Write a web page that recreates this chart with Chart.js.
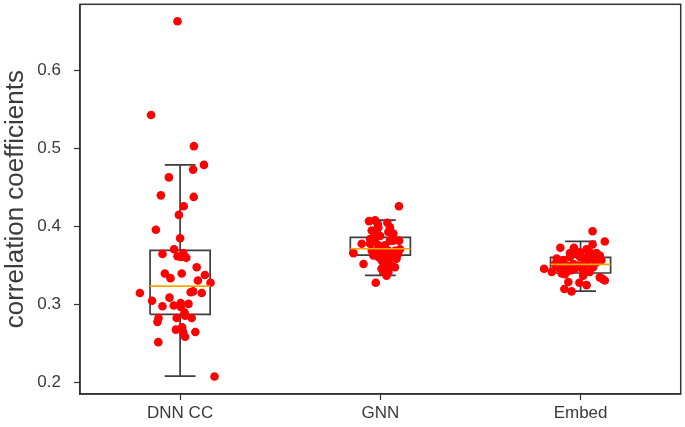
<!DOCTYPE html>
<html><head><meta charset="utf-8">
<script src="https://cdn.jsdelivr.net/npm/chart.js@4"></script>
<style>html,body{margin:0;padding:0;background:#fff}</style>
</head><body>
<canvas id="c" width="685" height="427"></canvas>
<script>
const categories = ["DNN CC", "GNN", "Embed"];
const yTickValues = [0.2, 0.3, 0.4, 0.5, 0.6];

const q1 = [0.2876, 0.3635, 0.3406];
const median = [0.3237, 0.3716, 0.3517];
const q3 = [0.3696, 0.3861, 0.3606];
const whiskerLow = [0.2085, 0.3374, 0.3173];
const whiskerHigh = [0.479, 0.4082, 0.381];

const dnnValues = [0.663,0.543,0.503,0.479,0.473,0.463,0.440,0.438,0.426,0.415,0.396,0.385,0.371,0.365,0.366,0.362,0.361,0.360,0.348,0.340,0.340,0.334,0.338,0.331,0.328,0.315,0.317,0.316,0.315,0.305,0.309,0.298,0.299,0.302,0.297,0.301,0.290,0.286,0.283,0.283,0.283,0.278,0.268,0.271,0.265,0.265,0.259,0.252,0.208];
const dnnJitter = [-0.013,-0.145,0.069,0.119,0.065,-0.056,-0.096,0.068,0.018,-0.006,-0.121,0.000,-0.030,-0.088,0.016,-0.013,0.005,0.031,0.083,-0.076,0.008,-0.048,0.124,0.089,0.152,-0.201,0.065,0.053,0.108,-0.140,-0.053,-0.088,-0.032,0.003,0.004,0.042,0.022,0.025,0.058,-0.017,-0.108,-0.113,-0.021,0.010,0.015,0.076,0.025,-0.109,0.172];

const gnnValues = [0.426,0.407,0.408,0.403,0.405,0.399,0.399,0.393,0.393,0.388,0.386,0.382,0.382,0.382,0.382,0.378,0.378,0.376,0.376,0.366,0.369,0.367,0.367,0.369,0.369,0.365,0.361,0.363,0.361,0.357,0.357,0.359,0.352,0.350,0.348,0.342,0.342,0.337,0.328,0.384,0.380,0.391,0.371,0.367,0.365,0.363,0.350,0.346,0.395];
const gnnJitter = [0.093,-0.056,-0.026,-0.013,0.035,-0.010,0.048,0.040,-0.030,-0.001,-0.035,-0.043,0.048,0.065,0.094,-0.093,-0.051,-0.010,0.023,-0.134,-0.043,-0.018,0.006,0.040,0.073,0.089,-0.010,0.023,0.056,0.006,0.040,0.081,-0.084,0.056,0.073,0.015,0.040,0.031,-0.023,-0.051,-0.026,0.065,0.098,0.056,-0.001,-0.035,0.023,0.006,-0.043];

const embedValues = [0.394,0.381,0.373,0.373,0.377,0.371,0.368,0.366,0.366,0.361,0.363,0.361,0.359,0.359,0.357,0.356,0.357,0.352,0.352,0.350,0.350,0.346,0.348,0.348,0.346,0.342,0.340,0.342,0.344,0.344,0.342,0.339,0.337,0.335,0.331,0.329,0.328,0.325,0.320,0.317,0.367,0.366,0.363,0.352,0.354,0.346,0.350,0.333,0.359];
const embedJitter = [0.060,0.121,-0.101,-0.033,0.060,0.030,0.043,-0.020,0.079,-0.053,0.096,-0.003,0.021,0.055,-0.086,-0.111,0.104,-0.036,0.030,-0.069,-0.011,-0.182,-0.119,0.063,-0.028,-0.144,-0.094,-0.069,-0.045,0.013,0.046,-0.078,0.013,0.096,0.121,-0.061,-0.006,0.030,-0.081,-0.045,-0.003,-0.053,0.038,-0.128,0.079,-0.103,0.005,0.109,-0.119];

const groupValues = [dnnValues, gnnValues, embedValues];
const groupJitter = [dnnJitter, gnnJitter, embedJitter];

const BOX_HALF = 0.15;
const CAP_HALF = 0.077;
const LINE_COLOR = '#3d3d3d';
const TEXT_COLOR = '#3a3a3a';
const FONT = 'Liberation Sans, Arial, sans-serif';

const datasets = [];
categories.forEach((c, i) => {
  datasets.push({
    data: [{x:i-BOX_HALF,y:q1[i]},{x:i+BOX_HALF,y:q1[i]},{x:i+BOX_HALF,y:q3[i]},{x:i-BOX_HALF,y:q3[i]},{x:i-BOX_HALF,y:q1[i]}],
    showLine: true, borderColor: LINE_COLOR, borderWidth: 1.7, pointRadius: 0, order: 3
  });
  datasets.push({
    data: [{x:i,y:q3[i]},{x:i,y:whiskerHigh[i]},{x:NaN,y:null},{x:i-CAP_HALF,y:whiskerHigh[i]},{x:i+CAP_HALF,y:whiskerHigh[i]},{x:NaN,y:null},
           {x:i,y:q1[i]},{x:i,y:whiskerLow[i]},{x:NaN,y:null},{x:i-CAP_HALF,y:whiskerLow[i]},{x:i+CAP_HALF,y:whiskerLow[i]}],
    showLine: true, spanGaps: false, borderColor: LINE_COLOR, borderWidth: 1.7, pointRadius: 0, order: 3
  });
  datasets.push({
    data: [{x:i-BOX_HALF,y:median[i]},{x:i+BOX_HALF,y:median[i]}],
    showLine: true, borderColor: '#ffa500', borderWidth: 1.7, pointRadius: 0, order: 0
  });
  datasets.push({
    data: groupValues[i].map((v, k) => ({x: i + groupJitter[i][k], y: v})),
    showLine: false, pointRadius: 4.3, pointBackgroundColor: '#ff0000', pointBorderWidth: 0, order: 1
  });
});

const framePlugin = {
  id: 'frame',
  afterDraw(chart) {
    const a = chart.chartArea, ctx = chart.ctx;
    ctx.save();
    ctx.strokeStyle = '#333333';
    ctx.lineWidth = 1.5;
    ctx.strokeRect(a.left, a.top, a.right - a.left, a.bottom - a.top);
    ctx.restore();
  }
};

new Chart(document.getElementById('c'), {
  type: 'scatter',
  data: { datasets },
  options: {
    responsive: false,
    devicePixelRatio: 1,
    animation: false,
    layout: { padding: { top: 3, right: 1, left: 0, bottom: 0 } },
    plugins: { legend: { display: false }, tooltip: { enabled: false } },
    scales: {
      x: {
        type: 'linear', min: -0.5, max: 2.5,
        afterBuildTicks: s => { s.ticks = categories.map((c, i) => ({ value: i })); },
        afterFit: s => { s.height = 33; s.paddingLeft = 0; s.paddingRight = 0; },
        ticks: { callback: v => categories[v], color: TEXT_COLOR, font: { family: FONT, size: 17 }, padding: 3, maxRotation: 0 },
        grid: { drawOnChartArea: false, drawTicks: true, tickLength: 6, tickColor: '#333333', tickWidth: 1.2 },
        border: { display: true, color: '#333333', width: 1.5 }
      },
      y: {
        type: 'linear', min: 0.1856, max: 0.6847,
        afterBuildTicks: s => { s.ticks = yTickValues.map(v => ({ value: v })); },
        afterFit: s => { s.width = 80; s.paddingTop = 0; s.paddingBottom = 0; },
        ticks: { callback: v => v.toFixed(1), color: TEXT_COLOR, font: { family: FONT, size: 17 }, padding: 13 },
        grid: { drawOnChartArea: false, drawTicks: true, tickLength: 6, tickColor: '#333333', tickWidth: 1.2 },
        border: { display: true, color: '#333333', width: 1.5 },
        title: { display: true, text: 'correlation coefficients', color: TEXT_COLOR, font: { family: FONT, size: 26 }, padding: { top: 0, bottom: 0 } }
      }
    }
  },
  plugins: [framePlugin]
});
</script>
</body></html>
